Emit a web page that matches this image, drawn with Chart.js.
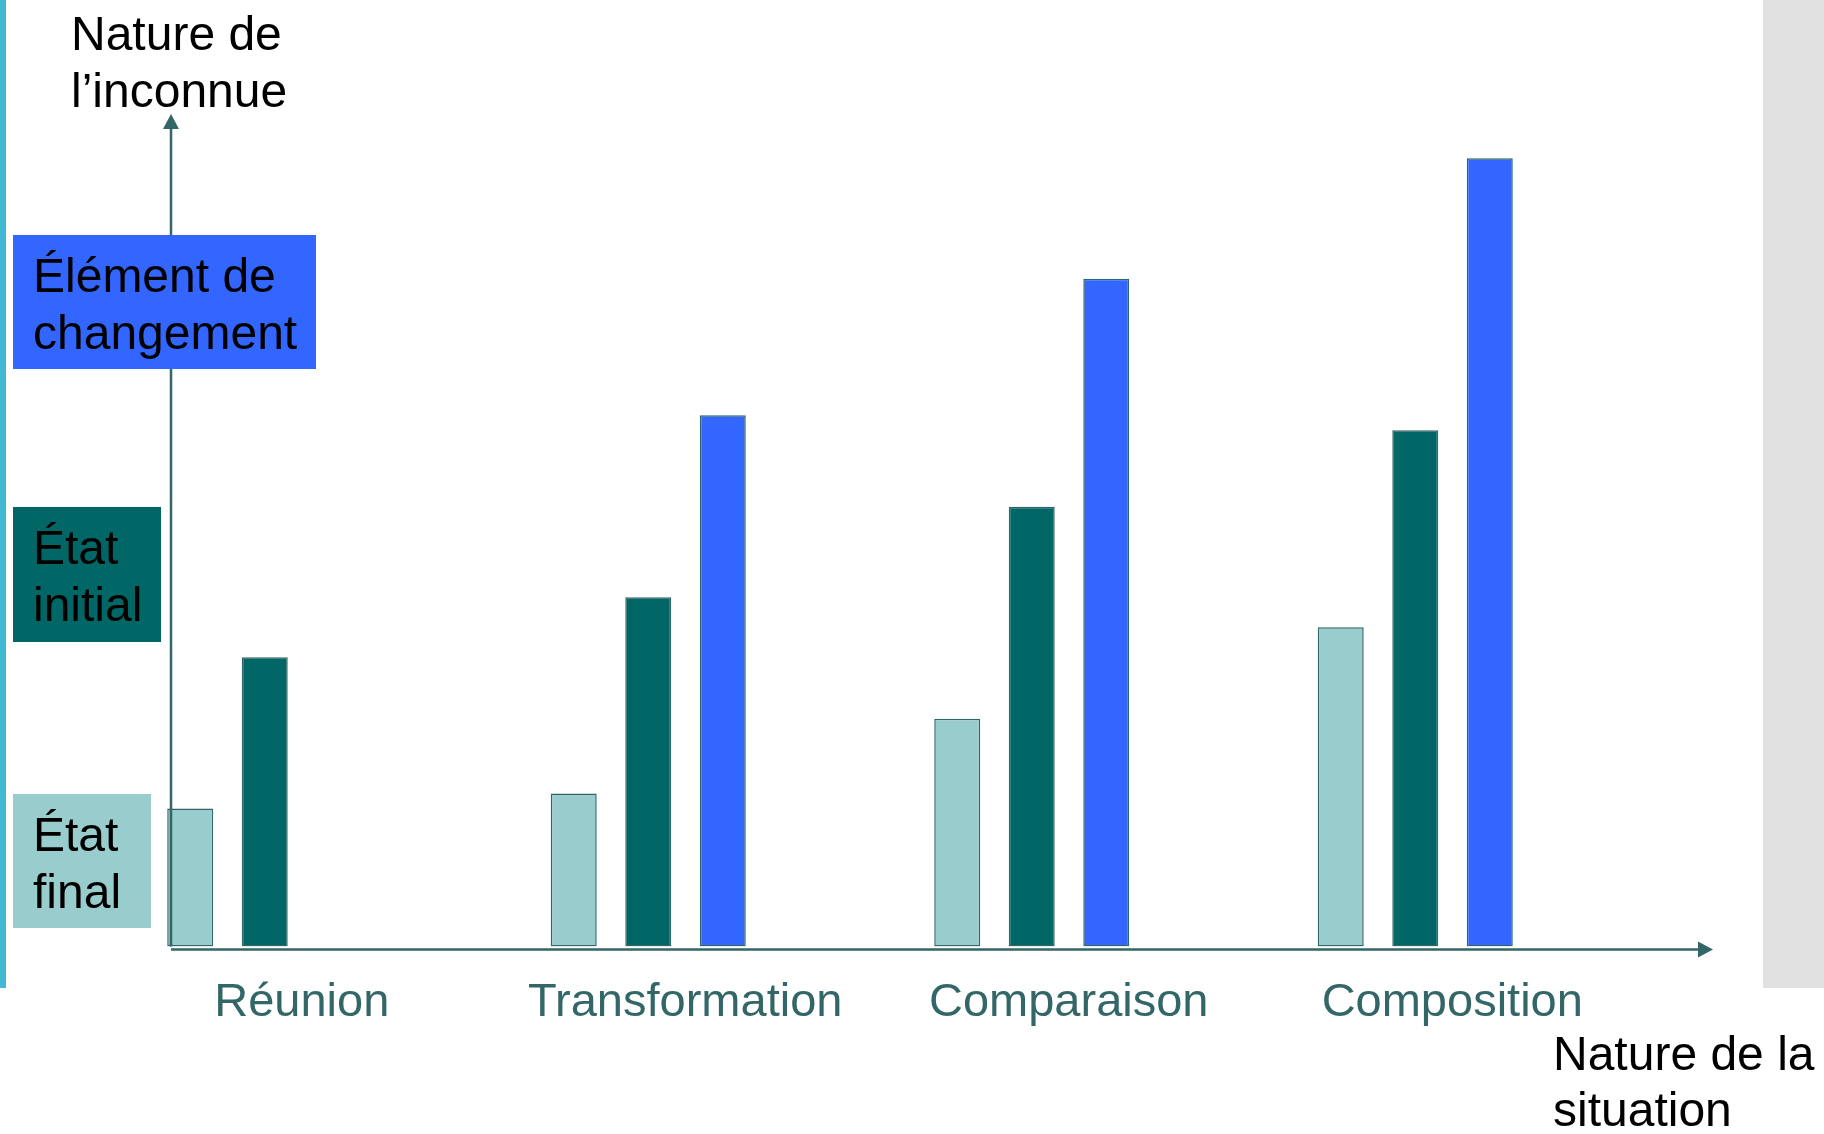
<!DOCTYPE html>
<html lang="fr">
<head>
<meta charset="utf-8">
<title>Nature de l'inconnue / Nature de la situation</title>
<script src="https://cdn.jsdelivr.net/npm/chart.js@4.4.1/dist/chart.umd.min.js"></script>
<style>
  html, body { margin: 0; padding: 0; background: #fff; }
  #page { position: relative; width: 1824px; height: 1134px; overflow: hidden; }
  .strip { position: absolute; left: 0; top: 0; width: 6px; height: 988px; background: #41b8d4; }
  .panel { position: absolute; left: 1763px; top: 0; width: 61px; height: 988px; background: #e1e1e1; }
  #myChart { position: absolute; left: 0; top: 0; }
</style>
</head>
<body>
<div id="page">
  <div class="strip"></div>
  <div class="panel"></div>
  <canvas id="myChart" width="1824" height="1134"></canvas>
</div>
<script>
  // données (unités arbitraires, axe 0..10)
  const categories = ['Réunion', 'Transformation', 'Comparaison', 'Composition'];
  const etatFinal = [1.66, 1.84, 2.74, 3.84];
  const etatInitial = [3.48, 4.20, 5.29, 6.21];
  const elementChangement = [null, 6.39, 8.03, 9.48];
  const seriesNames = [['État', 'final'], ['État', 'initial'], ['Élément de', 'changement']];
  const yTitle = ['Nature de', 'l’inconnue'];
  const xTitle = ['Nature de la', 'situation'];

  const colors = ['#99cccc', '#006666', '#3366ff'];
  const axisColor = '#336666';
  const FONT = "'Liberation Sans', Arial, sans-serif";

  // cadres de légende (x, y, largeur, hauteur) : mise en page seulement
  const legendBoxes = [
    {x: 13, y: 794, w: 138, h: 134},
    {x: 13, y: 507, w: 148, h: 135},
    {x: 13, y: 235, w: 303, h: 134}
  ];

  Chart.defaults.font.family = FONT;

  const axesPlugin = {
    id: 'axes',
    afterDatasetsDraw(chart) {
      const ctx = chart.ctx;
      const area = chart.chartArea;
      const ax = 171;              // position de l'axe vertical
      const ay = area.bottom + 3;  // axe horizontal juste sous les barres
      const xEnd = 1713;
      const yEnd = area.top - 1;
      ctx.save();
      ctx.strokeStyle = axisColor;
      ctx.fillStyle = axisColor;
      ctx.lineWidth = 2.5;
      ctx.beginPath();
      ctx.moveTo(ax, area.bottom);
      ctx.lineTo(ax, yEnd + 14);
      ctx.moveTo(ax, ay);
      ctx.lineTo(xEnd - 14, ay);
      ctx.stroke();
      // flèches
      ctx.beginPath();
      ctx.moveTo(ax, yEnd);
      ctx.lineTo(ax - 8, yEnd + 15);
      ctx.lineTo(ax + 8, yEnd + 15);
      ctx.closePath();
      ctx.fill();
      ctx.beginPath();
      ctx.moveTo(xEnd, ay);
      ctx.lineTo(xEnd - 15, ay - 8);
      ctx.lineTo(xEnd - 15, ay + 8);
      ctx.closePath();
      ctx.fill();

      // légende en cadres colorés
      ctx.font = '48px ' + FONT;
      ctx.textBaseline = 'alphabetic';
      ctx.textAlign = 'left';
      legendBoxes.forEach((b, i) => {
        ctx.fillStyle = chart.data.datasets[i].backgroundColor;
        ctx.fillRect(b.x, b.y, b.w, b.h);
        ctx.fillStyle = '#000';
        seriesNames[i].forEach((line, j) => {
          ctx.fillText(line, b.x + 20, b.y + 57 + j * 57);
        });
      });

      // titres des axes
      yTitle.forEach((line, j) => ctx.fillText(line, 71, 50 + j * 57));
      xTitle.forEach((line, j) => ctx.fillText(line, 1553, 1070 + j * 56));
      ctx.restore();
    }
  };

  const ctx = document.getElementById('myChart');
  new Chart(ctx, {
    type: 'bar',
    data: {
      labels: categories,
      datasets: [
        {label: seriesNames[0].join(' '), data: etatFinal, backgroundColor: colors[0]},
        {label: seriesNames[1].join(' '), data: etatInitial, backgroundColor: colors[1]},
        {label: seriesNames[2].join(' '), data: elementChangement, backgroundColor: colors[2]}
      ].map(d => Object.assign(d, {
        borderColor: axisColor,
        borderWidth: 1.5,
        borderSkipped: false,
        categoryPercentage: 0.583,
        barPercentage: 0.617
      }))
    },
    options: {
      responsive: false,
      animation: false,
      layout: {padding: {left: 73, right: 217, top: 115, bottom: 75}},
      plugins: {legend: {display: false}, tooltip: {enabled: false}},
      scales: {
        x: {
          grid: {display: false, drawTicks: false},
          border: {display: false},
          ticks: {
            color: axisColor,
            font: {size: 47, lineHeight: 1.2},
            padding: 28,
            labelOffset: 37,
            maxRotation: 0,
            autoSkip: false
          }
        },
        y: {
          display: false,
          min: 0,
          max: 10
        }
      }
    },
    plugins: [axesPlugin]
  });
</script>
</body>
</html>
